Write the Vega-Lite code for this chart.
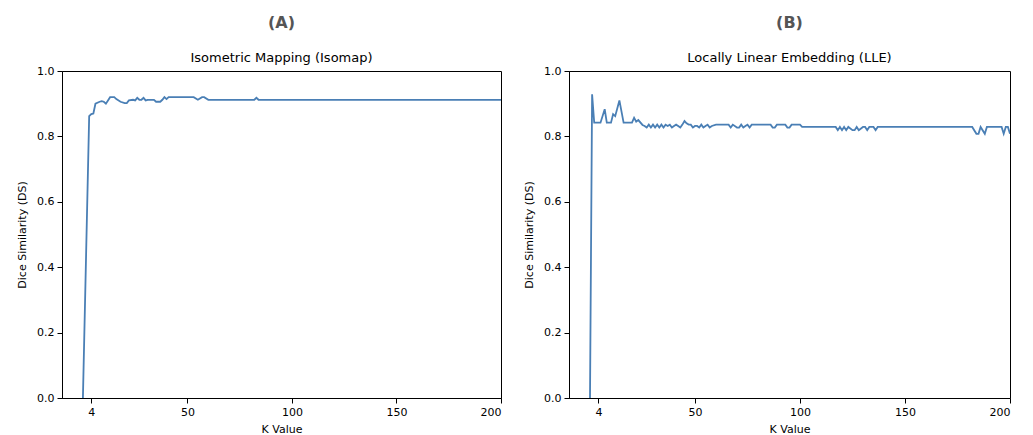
{
  "$schema": "https://vega.github.io/schema/vega-lite/v6.json",
  "background": "white",
  "padding": {"left": 16, "top": 14, "right": 5, "bottom": 5},
  "spacing": 21,
  "config": {
    "font": "DejaVu Sans",
    "view": {"stroke": "#000000", "strokeWidth": 1},
    "axis": {
      "grid": false,
      "domainColor": "#000000",
      "tickColor": "#000000",
      "tickSize": 5,
      "labelPadding": 3,
      "labelColor": "#000000",
      "labelFontSize": 11,
      "titleFontSize": 11,
      "titleFontWeight": "normal",
      "titleColor": "#000000"
    },
    "axisY": {"titlePadding": 9},
    "axisX": {"titlePadding": 6},
    "title": {
      "anchor": "middle",
      "fontSize": 16,
      "fontWeight": "bold",
      "color": "#555555",
      "subtitleFontSize": 13,
      "subtitleColor": "#000000",
      "subtitlePadding": 21,
      "offset": 0.5
    }
  },
  "datasets": {
    "isomap": [
      {"K": 0, "DS": 0}, {"K": 3, "DS": 0.862}, {"K": 4, "DS": 0.868}, {"K": 5, "DS": 0.87},
      {"K": 6, "DS": 0.9}, {"K": 8, "DS": 0.906}, {"K": 9, "DS": 0.908}, {"K": 10, "DS": 0.906},
      {"K": 11, "DS": 0.9}, {"K": 12, "DS": 0.91}, {"K": 13, "DS": 0.92}, {"K": 15, "DS": 0.92},
      {"K": 16, "DS": 0.914}, {"K": 18, "DS": 0.906}, {"K": 20, "DS": 0.902}, {"K": 21, "DS": 0.902},
      {"K": 22, "DS": 0.91}, {"K": 24, "DS": 0.912}, {"K": 25, "DS": 0.91}, {"K": 26, "DS": 0.918},
      {"K": 27, "DS": 0.912}, {"K": 28, "DS": 0.912}, {"K": 29, "DS": 0.918}, {"K": 30, "DS": 0.91},
      {"K": 31, "DS": 0.912}, {"K": 34, "DS": 0.912}, {"K": 35, "DS": 0.906}, {"K": 37, "DS": 0.906},
      {"K": 38, "DS": 0.912}, {"K": 39, "DS": 0.92}, {"K": 40, "DS": 0.914}, {"K": 41, "DS": 0.92},
      {"K": 42, "DS": 0.92}, {"K": 53, "DS": 0.92}, {"K": 55, "DS": 0.912}, {"K": 57, "DS": 0.92},
      {"K": 58, "DS": 0.92}, {"K": 60, "DS": 0.912}, {"K": 82, "DS": 0.912}, {"K": 83, "DS": 0.918},
      {"K": 84, "DS": 0.912}, {"K": 200, "DS": 0.912}
    ],
    "lle": [
      {"K": 0, "DS": 0}, {"K": 1, "DS": 0.929}, {"K": 2, "DS": 0.842}, {"K": 5, "DS": 0.842},
      {"K": 7, "DS": 0.883}, {"K": 8, "DS": 0.842}, {"K": 10, "DS": 0.842}, {"K": 11, "DS": 0.868},
      {"K": 12, "DS": 0.862}, {"K": 14, "DS": 0.91}, {"K": 16, "DS": 0.842}, {"K": 20, "DS": 0.842},
      {"K": 21, "DS": 0.857}, {"K": 22, "DS": 0.845}, {"K": 23, "DS": 0.85}, {"K": 25, "DS": 0.835},
      {"K": 26, "DS": 0.832}, {"K": 27, "DS": 0.827}, {"K": 28, "DS": 0.836}, {"K": 29, "DS": 0.827},
      {"K": 30, "DS": 0.836}, {"K": 31, "DS": 0.827}, {"K": 32, "DS": 0.836}, {"K": 33, "DS": 0.827},
      {"K": 34, "DS": 0.836}, {"K": 35, "DS": 0.827}, {"K": 36, "DS": 0.836}, {"K": 37, "DS": 0.832},
      {"K": 38, "DS": 0.836}, {"K": 39, "DS": 0.827}, {"K": 40, "DS": 0.832}, {"K": 41, "DS": 0.836},
      {"K": 42, "DS": 0.832}, {"K": 43, "DS": 0.827}, {"K": 44, "DS": 0.836}, {"K": 45, "DS": 0.847},
      {"K": 46, "DS": 0.84}, {"K": 47, "DS": 0.836}, {"K": 48, "DS": 0.836}, {"K": 49, "DS": 0.827},
      {"K": 50, "DS": 0.832}, {"K": 51, "DS": 0.832}, {"K": 52, "DS": 0.827}, {"K": 53, "DS": 0.836},
      {"K": 54, "DS": 0.827}, {"K": 55, "DS": 0.832}, {"K": 56, "DS": 0.836}, {"K": 57, "DS": 0.827},
      {"K": 58, "DS": 0.832}, {"K": 60, "DS": 0.836}, {"K": 66, "DS": 0.836}, {"K": 67, "DS": 0.827},
      {"K": 68, "DS": 0.836}, {"K": 70, "DS": 0.827}, {"K": 71, "DS": 0.827}, {"K": 72, "DS": 0.836},
      {"K": 73, "DS": 0.827}, {"K": 74, "DS": 0.832}, {"K": 75, "DS": 0.836}, {"K": 76, "DS": 0.827},
      {"K": 77, "DS": 0.836}, {"K": 86, "DS": 0.836}, {"K": 87, "DS": 0.827}, {"K": 88, "DS": 0.827},
      {"K": 89, "DS": 0.836}, {"K": 93, "DS": 0.836}, {"K": 94, "DS": 0.827}, {"K": 95, "DS": 0.827},
      {"K": 96, "DS": 0.836}, {"K": 100, "DS": 0.836}, {"K": 101, "DS": 0.829}, {"K": 117, "DS": 0.829},
      {"K": 118, "DS": 0.819}, {"K": 119, "DS": 0.829}, {"K": 120, "DS": 0.819}, {"K": 121, "DS": 0.829},
      {"K": 122, "DS": 0.819}, {"K": 123, "DS": 0.829}, {"K": 125, "DS": 0.819}, {"K": 126, "DS": 0.819},
      {"K": 127, "DS": 0.829}, {"K": 128, "DS": 0.819}, {"K": 130, "DS": 0.829}, {"K": 131, "DS": 0.829},
      {"K": 132, "DS": 0.819}, {"K": 133, "DS": 0.829}, {"K": 135, "DS": 0.829}, {"K": 136, "DS": 0.819},
      {"K": 137, "DS": 0.829}, {"K": 182, "DS": 0.829}, {"K": 184, "DS": 0.808}, {"K": 185, "DS": 0.808},
      {"K": 186, "DS": 0.829}, {"K": 188, "DS": 0.808}, {"K": 189, "DS": 0.829}, {"K": 196, "DS": 0.829},
      {"K": 197, "DS": 0.808}, {"K": 198, "DS": 0.829}, {"K": 199, "DS": 0.829}, {"K": 200, "DS": 0.808}
    ]
  },
  "hconcat": [
    {
      "title": {"text": "(A)", "subtitle": "Isometric Mapping (Isomap)"},
      "width": 439,
      "height": 327,
      "data": {"name": "isomap"},
      "mark": {"type": "line", "color": "#4a7fb5", "strokeWidth": 1.8, "clip": true},
      "encoding": {
        "x": {"field": "K", "type": "quantitative", "title": "K Value",
              "scale": {"domain": [-10, 200], "nice": false, "zero": false},
              "axis": {"values": [4, 50, 100, 150, 200]}},
        "y": {"field": "DS", "type": "quantitative", "title": "Dice Similarity (DS)",
              "scale": {"domain": [0, 1], "nice": false},
              "axis": {"values": [0, 0.2, 0.4, 0.6, 0.8, 1.0], "format": ".1f"}}
      }
    },
    {
      "title": {"text": "(B)", "subtitle": "Locally Linear Embedding (LLE)"},
      "width": 441,
      "height": 327,
      "data": {"name": "lle"},
      "mark": {"type": "line", "color": "#4a7fb5", "strokeWidth": 1.8, "clip": true},
      "encoding": {
        "x": {"field": "K", "type": "quantitative", "title": "K Value",
              "scale": {"domain": [-10, 200], "nice": false, "zero": false},
              "axis": {"values": [4, 50, 100, 150, 200]}},
        "y": {"field": "DS", "type": "quantitative", "title": "Dice Similarity (DS)",
              "scale": {"domain": [0, 1], "nice": false},
              "axis": {"values": [0, 0.2, 0.4, 0.6, 0.8, 1.0], "format": ".1f"}}
      }
    }
  ]
}
